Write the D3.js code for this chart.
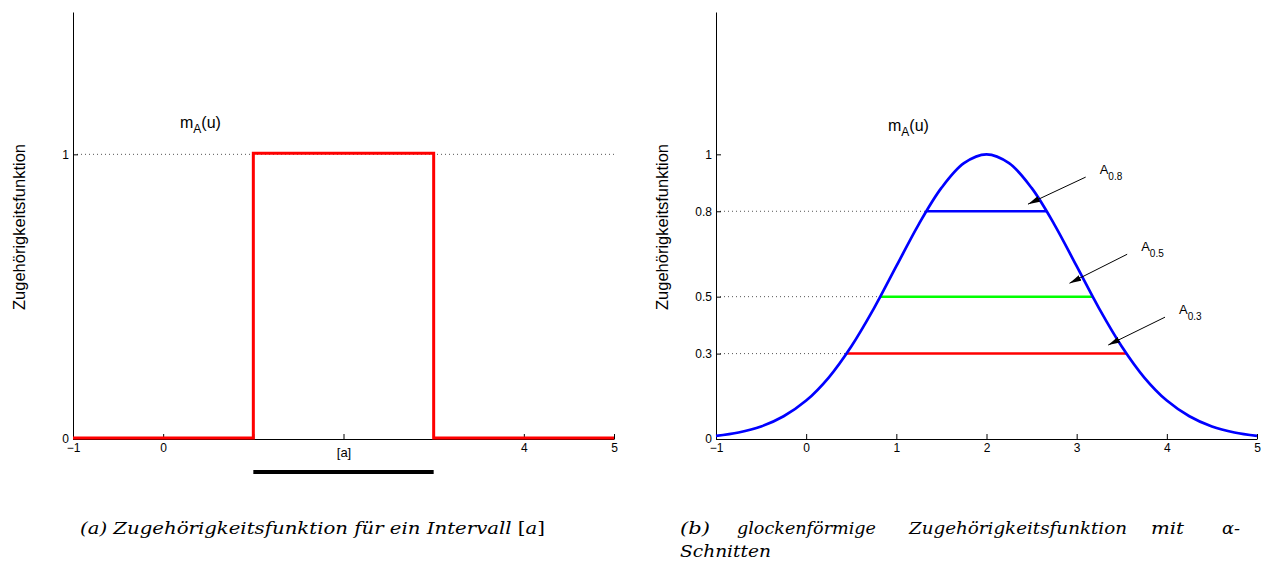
<!DOCTYPE html>
<html>
<head>
<meta charset="utf-8">
<script src="https://cdn.jsdelivr.net/npm/d3@7"></script>
<style>
  html, body { margin: 0; padding: 0; background: #fff; }
  svg text { font-family: "Liberation Sans", Arial, sans-serif; fill: #000; }
  .caption { font-family: "DejaVu Serif", "Liberation Serif", serif; font-style: italic; font-size: 17px; }
  .axis text { font-size: 12px; }
  .axis path, .axis line { stroke: #000; }
</style>
</head>
<body>
<div id="container"></div>
<script>
// interval membership function (rectangle)
var stepU  = [-1, 1, 1, 3, 3, 5]
var stepMu = [ 0, 0, 1, 1, 0, 0]
var intervalA = [1, 3]
var leftXTicks = [-1, 0, 1, 2, 3, 4, 5]
var leftXLabels = ['\u22121', '0', '', '[a]', '', '4', '5']
var leftYTicks = [0, 1]

// bell shaped membership function, read every 0.25
var bellU  = [-1, -0.75, -0.5, -0.25, 0, 0.25, 0.5, 0.75, 1, 1.25, 1.5, 1.75, 2,
              2.25, 2.5, 2.75, 3, 3.25, 3.5, 3.75, 4, 4.25, 4.5, 4.75, 5]
var bellMu = [0.011, 0.023, 0.044, 0.08, 0.135, 0.216, 0.325, 0.458, 0.607, 0.755, 0.882, 0.969, 1,
              0.969, 0.882, 0.755, 0.607, 0.458, 0.325, 0.216, 0.135, 0.08, 0.044, 0.023, 0.011]

// alpha cuts
var cutLevel = [0.8, 0.5, 0.3]
var cutFrom  = [1.33, 0.82, 0.45]
var cutTo    = [2.67, 3.18, 3.55]
var cutColor = ['#0000ff', '#00ff00', '#ff0000']

// arrows pointing at the cuts (data coords)
var arrowTail = [[3.1, 0.92], [3.56, 0.649], [3.98, 0.428]]
var arrowTip  = [[2.46, 0.825], [2.92, 0.547], [3.35, 0.33]]

var rightXTicks = [-1, 0, 1, 2, 3, 4, 5]
var rightYTicks = [0, 0.3, 0.5, 0.8, 1]

var WIDTH = 1262
var HEIGHT = 562

var svg = d3.select('#container').append('svg')
  .attr('width', WIDTH)
  .attr('height', HEIGHT)

svg.append('defs').append('marker')
  .attr('id', 'head')
  .attr('viewBox', '0 0 12 6')
  .attr('refX', 12).attr('refY', 3)
  .attr('markerWidth', 12).attr('markerHeight', 6)
  .attr('markerUnits', 'userSpaceOnUse')
  .attr('orient', 'auto')
  .append('path').attr('d', 'M0,0 L12,3 L0,6 Z').attr('fill', '#000')

function panel(x0, x1, yLabelX) {
  var x = d3.scaleLinear().domain([-1, 5]).range([x0, x1])
  var y = d3.scaleLinear().domain([0, 1.5]).range([439, 12])
  var g = svg.append('g')

  g.append('text')
    .attr('transform', 'translate(' + yLabelX + ',227) rotate(-90)')
    .attr('text-anchor', 'middle')
    .attr('dy', '0.35em')
    .style('font-size', '16.5px')
    .text('Zugeh\u00f6rigkeitsfunktion')

  return { x: x, y: y, g: g }
}

function muLabel(g, px, py) {
  var t = g.append('text').attr('x', px).attr('y', py).style('font-size', '16px')
  t.append('tspan').text('m')
  t.append('tspan').attr('dy', 5).style('font-size', '12px').text('A')
  t.append('tspan').attr('dy', -5).text('(u)')
}

// ---- left: interval ----
var L = panel(73, 614, 19)

L.g.append('line')
  .attr('x1', L.x(-1)).attr('x2', L.x(5))
  .attr('y1', L.y(1)).attr('y2', L.y(1))
  .attr('stroke', '#555').attr('stroke-dasharray', '1,3')

L.g.append('g').attr('class', 'axis')
  .attr('transform', 'translate(0,' + L.y(0) + ')')
  .call(d3.axisBottom(L.x).tickValues(leftXTicks)
    .tickFormat(function (d, i) { return leftXLabels[i] })
    .tickSizeInner(-5).tickSizeOuter(0).tickPadding(4))

L.g.append('g').attr('class', 'axis')
  .attr('transform', 'translate(' + L.x(-1) + ',0)')
  .call(d3.axisLeft(L.y).tickValues(leftYTicks).tickFormat(d3.format('d'))
    .tickSizeInner(-5).tickSizeOuter(0).tickPadding(4))

L.g.selectAll('.axis text').filter(function (d) { return d === 2 })
  .style('font-size', '13px').attr('dy', '1.05em')

L.g.append('path')
  .datum(d3.range(stepU.length))
  .attr('fill', 'none').attr('stroke', '#ff0000').attr('stroke-width', 3)
  .attr('d', d3.line().x(function (i) { return L.x(stepU[i]) }).y(function (i) { return L.y(stepMu[i]) - 1 }))

L.g.append('line')
  .attr('x1', L.x(intervalA[0])).attr('x2', L.x(intervalA[1]))
  .attr('y1', 472).attr('y2', 472)
  .attr('stroke', '#000').attr('stroke-width', 4)

muLabel(L.g, 180, 128)

// ---- right: bell curve with alpha cuts ----
var R = panel(716, 1257, 662)

cutLevel.forEach(function (a, i) {
  R.g.append('line')
    .attr('x1', R.x(-1)).attr('x2', R.x(cutFrom[i]))
    .attr('y1', R.y(a)).attr('y2', R.y(a))
    .attr('stroke', '#555').attr('stroke-dasharray', '1,3')
})

R.g.append('g').attr('class', 'axis')
  .attr('transform', 'translate(0,' + R.y(0) + ')')
  .call(d3.axisBottom(R.x).tickValues(rightXTicks)
    .tickFormat(function (d) { return d < 0 ? '\u2212' + (-d) : d })
    .tickSizeInner(-5).tickSizeOuter(0).tickPadding(4))

R.g.append('g').attr('class', 'axis')
  .attr('transform', 'translate(' + R.x(-1) + ',0)')
  .call(d3.axisLeft(R.y).tickValues(rightYTicks).tickFormat(String)
    .tickSizeInner(-5).tickSizeOuter(0).tickPadding(4))

cutLevel.forEach(function (a, i) {
  R.g.append('line')
    .attr('x1', R.x(cutFrom[i])).attr('x2', R.x(cutTo[i]))
    .attr('y1', R.y(a)).attr('y2', R.y(a))
    .attr('stroke', cutColor[i]).attr('stroke-width', 2.5)
})

R.g.append('path')
  .datum(d3.range(bellU.length))
  .attr('fill', 'none').attr('stroke', '#0000ff').attr('stroke-width', 2.7)
  .attr('d', d3.line().curve(d3.curveCatmullRom)
    .x(function (i) { return R.x(bellU[i]) }).y(function (i) { return R.y(bellMu[i]) }))

cutLevel.forEach(function (a, i) {
  var t0 = arrowTail[i], t1 = arrowTip[i]
  R.g.append('line')
    .attr('x1', R.x(t0[0])).attr('y1', R.y(t0[1]))
    .attr('x2', R.x(t1[0])).attr('y2', R.y(t1[1]))
    .attr('stroke', '#000').attr('stroke-width', 1)
    .attr('marker-end', 'url(#head)')
  var t = R.g.append('text')
    .attr('x', R.x(t0[0]) + 14).attr('y', R.y(t0[1]) - 3)
    .style('font-size', '13px')
  t.append('tspan').text('A')
  t.append('tspan').attr('dy', 6).style('font-size', '10px').text(String(a))
})

muLabel(R.g, 888, 131)

// ---- captions ----
var capA = svg.append('text').attr('class', 'caption')
  .attr('x', 80).attr('y', 534)
  .attr('textLength', 465).attr('lengthAdjust', 'spacingAndGlyphs')
capA.append('tspan').text('(a) Zugeh\u00f6rigkeitsfunktion f\u00fcr ein Intervall ')
capA.append('tspan').style('font-style', 'normal').text('[')
capA.append('tspan').text('a')
capA.append('tspan').style('font-style', 'normal').text(']')

// first line of (b) is justified: each word sits at its own x
var capBWords = ['(b)', 'glockenf\u00f6rmige', 'Zugeh\u00f6rigkeitsfunktion', 'mit', '\u03b1-']
var capBX = [680, 737, 909, 1151, 1222]
var capBW = [30, 139, 218, 33, 18]
capBWords.forEach(function (w, i) {
  svg.append('text').attr('class', 'caption')
    .attr('x', capBX[i]).attr('y', 534)
    .attr('textLength', capBW[i]).attr('lengthAdjust', 'spacingAndGlyphs')
    .text(w)
})
svg.append('text').attr('class', 'caption')
  .attr('x', 680).attr('y', 557)
  .attr('textLength', 91).attr('lengthAdjust', 'spacingAndGlyphs')
  .text('Schnitten')
</script>
</body>
</html>
